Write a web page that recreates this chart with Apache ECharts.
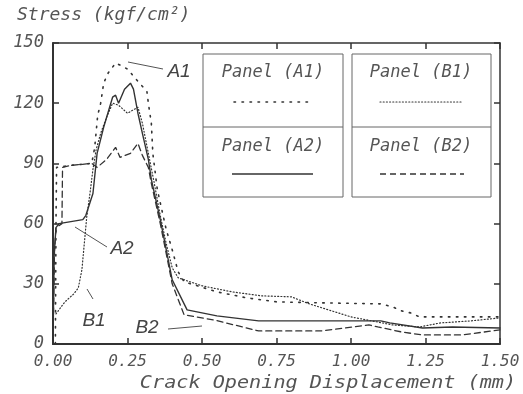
<!DOCTYPE html>
<html>
<head>
<meta charset="utf-8">
<script src="https://cdn.jsdelivr.net/npm/echarts@6/dist/echarts.min.js"></script>
<style>
  html, body { margin: 0; padding: 0; background: #fff; }
  #chart { width: 523px; height: 394px; }
</style>
</head>
<body>
<div id="chart"></div>
<script>
// valori: [spostamento mm, tensione kgf/cm2]
const panelA1 = [
  [0.008, 0], [0.01, 60], [0.012, 88], [0.06, 89], [0.13, 90], [0.14, 98], [0.15, 114],
  [0.16, 120], [0.17, 130], [0.185, 135], [0.21, 140], [0.225, 139], [0.25, 137],
  [0.29, 130], [0.315, 126], [0.32, 120], [0.33, 110], [0.335, 95], [0.35, 77],
  [0.38, 57], [0.40, 47], [0.42, 36], [0.44, 31], [0.55, 26], [0.65, 23], [0.75, 21],
  [0.9, 20.5], [1.1, 20], [1.14, 18.5], [1.17, 16.5], [1.2, 15.5], [1.23, 13.5], [1.5, 13.5]
];
const panelB1 = [
  [0.01, 15], [0.04, 21], [0.07, 25], [0.085, 28], [0.097, 37], [0.105, 50], [0.113, 63],
  [0.124, 75], [0.134, 87], [0.145, 97], [0.16, 105], [0.18, 113], [0.2, 120],
  [0.22, 119], [0.25, 115], [0.285, 118], [0.3, 110], [0.32, 95], [0.34, 80],
  [0.36, 64], [0.38, 50], [0.40, 38], [0.42, 33], [0.5, 29], [0.6, 26], [0.7, 24],
  [0.8, 23.5], [0.86, 20], [1.0, 13.5], [1.14, 9.5], [1.23, 8.5], [1.3, 10.5],
  [1.4, 11.5], [1.5, 13]
];
const panelA2 = [
  [0, 0], [0.004, 45], [0.01, 58], [0.02, 60], [0.06, 61], [0.1, 62], [0.11, 64],
  [0.134, 75], [0.148, 95], [0.17, 108], [0.19, 118], [0.2, 123], [0.21, 124],
  [0.22, 120], [0.24, 127], [0.26, 130], [0.27, 127], [0.285, 115], [0.3, 105],
  [0.32, 92], [0.33, 82], [0.36, 62], [0.38, 47], [0.40, 32], [0.45, 17], [0.55, 14],
  [0.69, 11.5], [0.8, 11.5], [1.1, 11.5], [1.13, 10.5], [1.24, 8], [1.34, 8.5], [1.5, 8]
];
const panelB2 = [
  [0, 0], [0.005, 46], [0.01, 58], [0.03, 60], [0.032, 88], [0.06, 89], [0.13, 90],
  [0.148, 88], [0.18, 92], [0.21, 98], [0.225, 93], [0.26, 95], [0.285, 100],
  [0.3, 94], [0.32, 88], [0.33, 80], [0.36, 60], [0.38, 45], [0.40, 30], [0.44, 14.5],
  [0.54, 12], [0.69, 6.5], [0.9, 6.5], [1.06, 9.5], [1.09, 8.5], [1.17, 6],
  [1.24, 4.5], [1.37, 4.5], [1.5, 7]
];
const xTicks = [0, 0.25, 0.5, 0.75, 1.0, 1.25, 1.5];
const yTicks = [0, 30, 60, 90, 120, 150];
const legendNames = ["Panel (A1)", "Panel (B1)", "Panel (A2)", "Panel (B2)"];

const ink = "#333";
const textCol = "#555";
const mono = "DejaVu Sans Mono";

function makeSeries(name, data, type, width) {
  return {
    name,
    type: "line",
    data,
    showSymbol: false,
    silent: true,
    lineStyle: { color: ink, width, type, cap: "round" }
  };
}

const axisCommon = {
  type: "value",
  axisLine: { show: true, onZero: false, lineStyle: { color: ink, width: 2 } },
  axisTick: { show: true, inside: true, length: 6, lineStyle: { color: ink, width: 1.5 } },
  splitLine: { show: false }
};

const chart = echarts.init(document.getElementById("chart"), null, { renderer: "canvas" });

chart.setOption({
  animation: false,
  backgroundColor: "#fff",
  grid: { left: 53, right: 23, top: 43, bottom: 50 },
  xAxis: [
    {
      ...axisCommon,
      min: xTicks[0], max: xTicks[xTicks.length - 1], interval: 0.25,
      axisLabel: {
        color: textCol, fontSize: 16, fontStyle: "italic", fontFamily: mono, margin: 10,
        formatter: v => v.toFixed(2)
      }
    },
    {
      ...axisCommon, position: "top",
      axisLine: { show: true, onZero: false, lineStyle: { color: ink, width: 1.5 } },
      min: xTicks[0], max: xTicks[xTicks.length - 1], interval: 0.25,
      axisLabel: { show: false }
    }
  ],
  yAxis: [
    {
      ...axisCommon,
      min: yTicks[0], max: yTicks[yTicks.length - 1], interval: 30,
      axisLabel: { color: textCol, fontSize: 17, fontStyle: "italic", fontFamily: mono, margin: 9 }
    },
    {
      ...axisCommon, position: "right",
      axisLine: { show: true, onZero: false, lineStyle: { color: ink, width: 1.5 } },
      min: yTicks[0], max: yTicks[yTicks.length - 1], interval: 30,
      axisLabel: { show: false }
    }
  ],
  series: [
    makeSeries("Panel (A1)", panelA1, [1.5, 6.5], 1.6),
    makeSeries("Panel (B1)", panelB1, [1, 2.2], 1.2),
    makeSeries("Panel (A2)", panelA2, "solid", 1.4),
    makeSeries("Panel (B2)", panelB2, [6, 4], 1.3)
  ],
  graphic: [
    // titolo asse y
    { type: "text", left: 17, top: 6, style: { text: "Stress (kgf/cm²)", fill: textCol, font: "italic 18px " + mono } },
    // titolo asse x
    { type: "text", x: 328, y: 383, scaleX: 1.12,
      style: { text: "Crack Opening Displacement (mm)", fill: textCol, font: "italic 18px " + mono, align: "center", verticalAlign: "middle" } },
    // riquadri legenda
    { type: "rect", shape: { x: 203, y: 54, width: 140, height: 143 }, style: { fill: "#fff", stroke: "#666", lineWidth: 1 } },
    { type: "rect", shape: { x: 352, y: 54, width: 139, height: 143 }, style: { fill: "#fff", stroke: "#666", lineWidth: 1 } },
    { type: "line", shape: { x1: 203, y1: 127, x2: 343, y2: 127 }, style: { stroke: "#666", lineWidth: 1 } },
    { type: "line", shape: { x1: 352, y1: 127, x2: 491, y2: 127 }, style: { stroke: "#666", lineWidth: 1 } },
    { type: "text", x: 273, y: 73, style: { text: legendNames[0], fill: textCol, font: "italic 17px " + mono, align: "center", verticalAlign: "middle" } },
    { type: "text", x: 421, y: 73, style: { text: legendNames[1], fill: textCol, font: "italic 17px " + mono, align: "center", verticalAlign: "middle" } },
    { type: "text", x: 273, y: 147, style: { text: legendNames[2], fill: textCol, font: "italic 17px " + mono, align: "center", verticalAlign: "middle" } },
    { type: "text", x: 421, y: 147, style: { text: legendNames[3], fill: textCol, font: "italic 17px " + mono, align: "center", verticalAlign: "middle" } },
    { type: "line", shape: { x1: 234, y1: 102, x2: 308, y2: 102 }, style: { stroke: ink, lineWidth: 1.6, lineDash: [1.5, 6.5], lineCap: "round" } },
    { type: "line", shape: { x1: 380, y1: 102, x2: 463, y2: 102 }, style: { stroke: ink, lineWidth: 1.2, lineDash: [1, 2.2], lineCap: "round" } },
    { type: "line", shape: { x1: 232, y1: 174, x2: 313, y2: 174 }, style: { stroke: ink, lineWidth: 1.4 } },
    { type: "line", shape: { x1: 380, y1: 174, x2: 464, y2: 174 }, style: { stroke: ink, lineWidth: 1.3, lineDash: [6, 4] } },
    // etichette delle curve
    { type: "text", x: 179, y: 72, style: { text: "A1", fill: "#444", font: "italic 19px 'Liberation Sans'", align: "center", verticalAlign: "middle" } },
    { type: "line", shape: { x1: 128, y1: 62, x2: 163, y2: 69 }, style: { stroke: "#555", lineWidth: 1 } },
    { type: "text", x: 122, y: 249, style: { text: "A2", fill: "#444", font: "italic 19px 'Liberation Sans'", align: "center", verticalAlign: "middle" } },
    { type: "line", shape: { x1: 75, y1: 227, x2: 107, y2: 247 }, style: { stroke: "#555", lineWidth: 1 } },
    { type: "text", x: 94, y: 321, style: { text: "B1", fill: "#444", font: "italic 19px 'Liberation Sans'", align: "center", verticalAlign: "middle" } },
    { type: "line", shape: { x1: 87, y1: 289, x2: 93, y2: 299 }, style: { stroke: "#555", lineWidth: 1 } },
    { type: "text", x: 147, y: 328, style: { text: "B2", fill: "#444", font: "italic 19px 'Liberation Sans'", align: "center", verticalAlign: "middle" } },
    { type: "line", shape: { x1: 168, y1: 329, x2: 202, y2: 326 }, style: { stroke: "#555", lineWidth: 1 } }
  ]
});
</script>
</body>
</html>
